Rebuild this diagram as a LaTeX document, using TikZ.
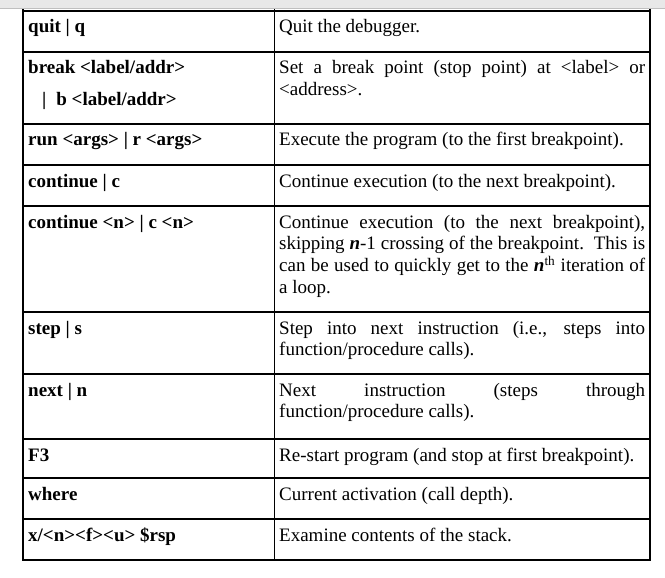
\documentclass[tikz,border=0pt]{standalone}
\usepackage{fontspec}
\setmainfont{Liberation Serif}
\begin{document}
\begin{tikzpicture}[x=1pt,y=-1pt,
  rule/.style={line width=1.2pt, black},
  cmd/.style={anchor=base west, inner sep=0pt, font=\fontsize{19}{21.8}\selectfont\bfseries},
  desc/.style={anchor=base west, inner sep=0pt, text width=366pt, align=justify, font=\fontsize{19}{21.8}\selectfont}]
\useasboundingbox (0,0) rectangle (665,578);
\fill[black!9] (0,0) rectangle (665,8);
\draw[black!25, line width=1pt] (0,8.5) -- (665,8.5);
\foreach \y in {11,52,124,165,206,312,374,439,478,519,560}
  \draw[rule] (22.4,\y) -- (650.6,\y);
\foreach \x in {23,274.5,650}
  \draw[rule] (\x,9) -- (\x,560);
% left column
\node[cmd] (c1) at (28,33) {quit | q};
\node[cmd] (c2) at (28,74) {break <label/addr>};
\node[cmd] (c2b) at (42,106) {|\hspace{10pt}b <label/addr>};
\node[cmd] (c3) at (28,146) {run <args> | r <args>};
\node[cmd] (c4) at (28,187) {continue | c};
\node[cmd] (c5) at (28,228) {continue <n> | c <n>};
\node[cmd] (c6) at (28,334) {step | s};
\node[cmd] (c7) at (28,396) {next | n};
\node[cmd] (c8) at (28,461) {F3};
\node[cmd] (c9) at (28,500) {where};
\node[cmd] (c10) at (28,541) {x/<n><f><u> \$rsp};
% right column
\node[desc] (d1) at (279,33) {Quit the debugger.};
\node[desc] (d2) at (279,74) {Set a break point (stop point) at <label> or\linebreak <address>.};
\node[desc] (d3) at (279,146) {Execute the program (to the first breakpoint).};
\node[desc] (d4) at (279,187) {Continue execution (to the next breakpoint).};
\node[desc] (d5) at (279,228) {Continue execution (to the next breakpoint),\linebreak skipping \textbf{\textit{n}}-1 crossing of the breakpoint.\ \ This is\linebreak can be used to quickly get to the \textbf{\textit{n}}\textsuperscript{th} iteration of\linebreak a loop.};
\node[desc] (d6) at (279,334) {Step into next instruction (i.e., steps into\linebreak function/procedure calls).};
\node[desc] (d7) at (279,396) {Next instruction (steps through\linebreak function/procedure calls).};
\node[desc] (d8) at (279,461) {Re-start program (and stop at first breakpoint).};
\node[desc] (d9) at (279,500) {Current activation (call depth).};
\node[desc] (d10) at (279,541) {Examine contents of the stack.};
\end{tikzpicture}
\end{document}
